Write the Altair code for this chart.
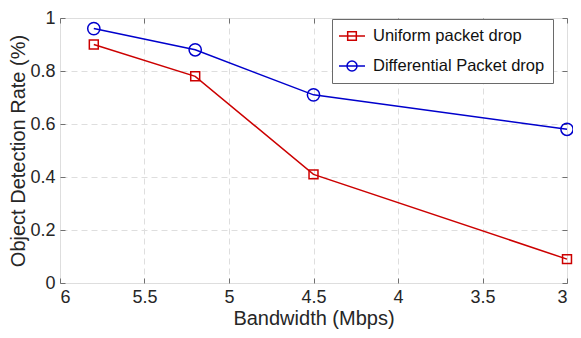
import altair as alt
import pandas as pd

bandwidth = [5.8, 5.2, 4.5, 3.0]
uniform = [0.90, 0.78, 0.41, 0.09]
differential = [0.96, 0.88, 0.71, 0.58]
series_names = ["Uniform packet drop", "Differential Packet drop"]
colors = ["#cc0000", "#0000cc"]
x_ticks = [6, 5.5, 5, 4.5, 4, 3.5, 3]
y_ticks = [0, 0.2, 0.4, 0.6, 0.8, 1]

rows = []
for b, u, d in zip(bandwidth, uniform, differential):
    rows.append({"bw": b, "rate": u, "series": series_names[0]})
    rows.append({"bw": b, "rate": d, "series": series_names[1]})
df = pd.DataFrame(rows)

PAD_L, PAD_T, PAD_R, PAD_B = 52, 10, 6, 46
W, H = 565 - PAD_L - PAD_R, 321 - PAD_T - PAD_B
FONT = "Liberation Sans"
AX = "#707070"
TXT = "#262626"

xs = alt.Scale(domain=[3, 6], reverse=True, nice=False, zero=False)
ys = alt.Scale(domain=[0, 1], nice=False, zero=False)

def cscale():
    return alt.Scale(domain=series_names, range=colors)

def tick_axis(orient, offset):
    return alt.Axis(orient=orient, offset=offset, labels=False, domain=False, grid=False,
                    ticks=True, tickSize=5, tickColor=AX, tickWidth=1, title=None,
                    values=x_ticks if orient in ("top", "bottom") else y_ticks)

base = alt.Chart(df)

lines = base.mark_line(strokeWidth=1.5).encode(
    x=alt.X("bw:Q", scale=xs, axis=alt.Axis(
        orient="bottom", values=x_ticks, format="~g", title="Bandwidth (Mbps)",
        ticks=False, domain=False, grid=True, gridDash=[6, 4], gridColor="#dedede",
        labelFontSize=18, labelFont=FONT, labelColor=TXT, labelPadding=5,
        titleFontSize=20, titleFont=FONT, titleColor=TXT, titleFontWeight="normal", titlePadding=2)),
    y=alt.Y("rate:Q", scale=ys, axis=alt.Axis(
        orient="left", values=y_ticks, format="~g", title="Object Detection Rate (%)",
        ticks=False, domain=False, grid=True, gridDash=[6, 4], gridColor="#dedede",
        labelFontSize=18, labelFont=FONT, labelColor=TXT, labelPadding=5,
        titleFontSize=20, titleFont=FONT, titleColor=TXT, titleFontWeight="normal", titlePadding=1)),
    color=alt.Color("series:N", scale=cscale(), legend=None),
)

points = base.mark_point(filled=False, strokeWidth=1.5, opacity=1).encode(
    x=alt.X("bw:Q", scale=xs, axis=tick_axis("top", -H)),
    y=alt.Y("rate:Q", scale=ys, axis=tick_axis("right", -W)),
    color=alt.Color("series:N", scale=cscale(), legend=None),
    shape=alt.Shape("series:N", scale=alt.Scale(domain=series_names, range=["square", "circle"]), legend=None),
    size=alt.Size("series:N", scale=alt.Scale(domain=series_names, range=[80, 150]), legend=None),
)

sq_path = "M-1.625,0H1.625M-0.54,-0.54H0.54V0.54H-0.54Z"
ci_path = "M-1.625,0H1.625M-0.625,0A0.625,0.625,0,1,1,0.625,0A0.625,0.625,0,1,1,-0.625,0Z"

legend = alt.Legend(
    title=None, orient="none", legendX=272, legendY=1,
    padding=8, symbolSize=256, symbolStrokeWidth=1.5, symbolOffset=3,
    labelOffset=12, rowPadding=12, labelFontSize=16.5, labelFont=FONT,
    labelColor="#111111", labelLimit=400, strokeColor="#6a6a6a", fillColor="white",
    labelExpr="datum.label + '  '",
)

legend_layer = base.mark_point(filled=False, strokeWidth=1.5, size=256, opacity=1).encode(
    x=alt.X("bw:Q", scale=xs, axis=tick_axis("bottom", -H)),
    y=alt.Y("rate:Q", scale=ys, axis=tick_axis("left", -W)),
    color=alt.Color("series:N", scale=cscale(), legend=legend),
    shape=alt.Shape("series:N", scale=alt.Scale(domain=series_names, range=[sq_path, ci_path]), legend=legend),
).transform_filter("false")

chart = alt.layer(lines, points, legend_layer).resolve_scale(
    shape="independent", color="independent", size="independent"
).resolve_axis(x="independent", y="independent").properties(
    width=W, height=H,
    autosize=alt.AutoSizeParams(type="none"),
    padding={"left": PAD_L, "top": PAD_T, "right": PAD_R, "bottom": PAD_B},
).configure_view(stroke=AX, strokeWidth=1).configure(background="white")

chart.save("out.html", embed_options={"renderer": "svg", "actions": False})
